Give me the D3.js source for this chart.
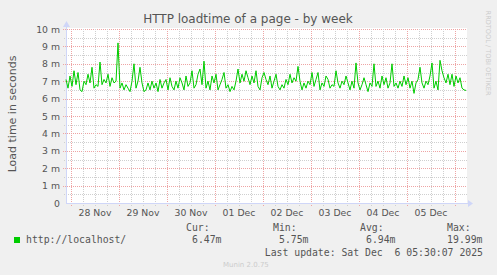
<!DOCTYPE html>
<html>
<head>
<meta charset="utf-8">
<script src="https://cdn.jsdelivr.net/npm/d3@7"></script>
<style>
  body { margin: 0; background: #F0F0F0; }
  svg { display: block; }
  text { font-family: "DejaVu Sans", sans-serif; fill: #555; }
  .mono { font-family: "DejaVu Sans Mono", monospace; }
</style>
</head>
<body>
<svg id="chart" width="497" height="275"></svg>
<script>
// hourly load time in ms, first sample at 27 Nov 21:30
var loadtime = [
  7.1, 6.6, 7.3, 6.7, 7.6, 6.8, 7.5, 6.5, 6.4, 7.0,
  6.8, 7.4, 6.9, 7.8, 6.6, 6.8, 6.7, 8.1, 6.8, 7.1,
  6.9, 7.4, 6.7, 7.2, 6.9, 7.0, 9.2, 6.6, 6.9, 6.5,
  6.8, 6.6, 6.4, 7.0, 8.0, 6.6, 7.0, 7.8, 6.9, 6.4,
  6.5, 6.9, 6.5, 7.0, 6.6, 6.9, 6.4, 7.1, 6.6, 6.9,
  7.1, 6.5, 7.2, 6.7, 6.5, 7.0, 6.6, 7.2, 6.9, 6.5,
  7.3, 6.7, 6.9, 7.6, 6.6, 6.8, 7.4, 7.7, 6.8, 8.15,
  6.6, 7.0, 6.5, 7.3, 6.9, 7.4, 6.5, 6.8, 7.1, 7.5,
  6.6, 6.8, 6.4, 6.7, 6.5, 7.0, 7.7, 6.9, 7.4, 7.0,
  7.6, 7.2, 6.8, 7.3, 6.9, 7.6, 6.7, 6.5, 7.2, 7.5,
  7.1, 6.8, 7.3, 6.6, 7.0, 7.4, 6.7, 6.5, 6.8, 6.6,
  7.1, 6.8, 7.4, 6.9, 7.2, 7.0, 7.85, 7.0, 6.5, 6.9,
  6.6, 7.0, 6.8, 7.5, 6.7, 7.1, 7.5, 6.5, 6.9, 6.7,
  7.3, 7.1, 6.6, 6.8, 6.7, 7.6, 6.9, 6.6, 7.0, 6.8,
  7.3, 6.9, 6.5, 7.0, 6.6, 8.05, 6.9, 6.5, 6.8, 7.2,
  6.8, 6.4, 6.9, 6.7, 8.0, 6.7, 7.0, 6.6, 7.3, 6.8,
  7.2, 6.6, 6.9, 8.0, 6.7, 6.9, 6.6, 7.0, 6.7, 7.3,
  6.8, 7.2, 6.6, 7.0, 6.3, 6.9, 7.1, 7.8, 6.9, 6.6,
  7.0, 6.8, 7.3, 8.05, 6.6, 7.0, 6.5, 8.2, 7.6, 7.2,
  6.9, 7.4, 6.8, 7.4, 6.7, 7.3, 6.9, 7.2, 6.6, 6.5,
  6.47
];
var yTicks = [0, 1, 2, 3, 4, 5, 6, 7, 8, 9, 10];
var yTickLabels = ["0", "1 m", "2 m", "3 m", "4 m", "5 m", "6 m", "7 m", "8 m", "9 m", "10 m"];
var dayLabels = ["28 Nov", "29 Nov", "30 Nov", "01 Dec", "02 Dec", "03 Dec", "04 Dec", "05 Dec"];
var legendHeads = ["Cur:", "Min:", "Avg:", "Max:"];
var legendValues = ["6.47m", "5.75m", "6.94m", "19.99m"];

var start = new Date(2025, 10, 27, 21, 30);
var end = new Date(2025, 11, 6, 5, 30);
var hour = 3600 * 1000;

var svg = d3.select("#chart");
var x = d3.scaleTime().domain([start, end]).range([66, 466]);
var y = d3.scaleLinear().domain([0, 10]).range([203, 29]);
var px = function(v) { return Math.round(v) + 0.5; };

svg.append("rect")
  .attr("width", 497).attr("height", 275).attr("fill", "#F0F0F0");

svg.append("rect")
  .attr("x", 66).attr("y", 28)
  .attr("width", 401).attr("height", 176)
  .attr("fill", "#FFFFFF");

var grid = svg.append("g").attr("shape-rendering", "crispEdges");

// horizontal grid
var halfSteps = d3.range(0.5, 10, 1);
grid.selectAll(".hminor")
  .data(halfSteps)
  .enter().append("line")
  .attr("x1", 64).attr("x2", 467)
  .attr("y1", function(d) { return px(y(d)); })
  .attr("y2", function(d) { return px(y(d)); })
  .attr("stroke", "#cfcfcf")
  .attr("stroke-dasharray", "1,1");

grid.selectAll(".hmajor")
  .data(yTicks.slice(1))
  .enter().append("line")
  .attr("x1", 63).attr("x2", 467)
  .attr("y1", function(d) { return px(y(d)); })
  .attr("y2", function(d) { return px(y(d)); })
  .attr("stroke", "#eea4a4")
  .attr("stroke-dasharray", "1,1");

// vertical grid, every 6 hours, red at midnight
var sixHours = d3.timeHour.every(6).range(start, end);
grid.selectAll(".vline")
  .data(sixHours)
  .enter().append("line")
  .attr("x1", function(d) { return px(x(d)); })
  .attr("x2", function(d) { return px(x(d)); })
  .attr("y1", 29).attr("y2", 207)
  .attr("stroke", function(d) { return d.getHours() === 0 ? "#eea4a4" : "#cfcfcf"; })
  .attr("stroke-dasharray", "1,1");

// axes
svg.append("line")
  .attr("x1", 66).attr("x2", 469)
  .attr("y1", 203.5).attr("y2", 203.5)
  .attr("stroke", "#CFD6F8");
svg.append("line")
  .attr("x1", 66.5).attr("x2", 66.5)
  .attr("y1", 204).attr("y2", 25)
  .attr("stroke", "#CFD6F8");
svg.append("path")
  .attr("d", "M468,200 L473,203.5 L468,207 Z")
  .attr("fill", "#CFD6F8");
svg.append("path")
  .attr("d", "M63,27 L66.5,21 L70,27 Z")
  .attr("fill", "#CFD6F8");

// series
var line = d3.line()
  .x(function(d, i) { return x(new Date(start.getTime() + i * hour)); })
  .y(function(d) { return y(d); });

svg.append("path")
  .datum(loadtime)
  .attr("d", line)
  .attr("fill", "none")
  .attr("stroke", "#00CC00")
  .attr("stroke-width", 1);

// tick labels
svg.selectAll(".ylab")
  .data(yTicks)
  .enter().append("text")
  .attr("x", 60)
  .attr("y", function(d) { return y(d) + 3.5; })
  .attr("text-anchor", "end")
  .attr("font-size", "9.3px")
  .text(function(d, i) { return yTickLabels[i]; });

svg.selectAll(".xlab")
  .data(dayLabels)
  .enter().append("text")
  .attr("x", function(d, i) { return x(new Date(2025, 10, 28 + i, 12, 0)); })
  .attr("y", 216)
  .attr("text-anchor", "middle")
  .attr("font-size", "9.3px")
  .text(function(d) { return d; });

// titles
svg.append("text")
  .attr("x", 248).attr("y", 23)
  .attr("text-anchor", "middle")
  .attr("font-size", "12px")
  .text("HTTP loadtime of a page - by week");

svg.append("text")
  .attr("transform", "translate(16,114) rotate(-90)")
  .attr("text-anchor", "middle")
  .attr("font-size", "11px")
  .text("Load time in seconds");

svg.append("text")
  .attr("transform", "translate(485.5,53) rotate(90)")
  .attr("text-anchor", "middle")
  .attr("font-size", "6.6px")
  .style("fill", "#cccccc")
  .text("RRDTOOL / TOBI OETIKER");

// legend
svg.append("rect")
  .attr("x", 14).attr("y", 237)
  .attr("width", 6).attr("height", 6)
  .attr("fill", "#00CC00");

svg.append("text")
  .attr("class", "mono")
  .attr("x", 26).attr("y", 243)
  .attr("font-size", "9.8px")
  .text("http://localhost/");

svg.selectAll(".lhead")
  .data(legendHeads)
  .enter().append("text")
  .attr("class", "mono")
  .attr("x", function(d, i) { return 186 + i * 87; })
  .attr("y", 231)
  .attr("font-size", "9.8px")
  .text(function(d) { return d; });

svg.selectAll(".lval")
  .data(legendValues)
  .enter().append("text")
  .attr("class", "mono")
  .attr("x", function(d, i) { return 221.5 + i * 87; })
  .attr("y", 243)
  .attr("text-anchor", "end")
  .attr("font-size", "9.8px")
  .text(function(d) { return d; });

svg.append("text")
  .attr("class", "mono")
  .attr("x", 483).attr("y", 255.5)
  .attr("text-anchor", "end")
  .attr("font-size", "9.8px")
  .attr("xml:space", "preserve")
  .style("white-space", "pre")
  .text("Last update: Sat Dec  6 05:30:07 2025");

svg.append("text")
  .attr("x", 223).attr("y", 267)
  .attr("font-size", "7px")
  .style("fill", "#cccccc")
  .text("Munin 2.0.75");
</script>
</body>
</html>
